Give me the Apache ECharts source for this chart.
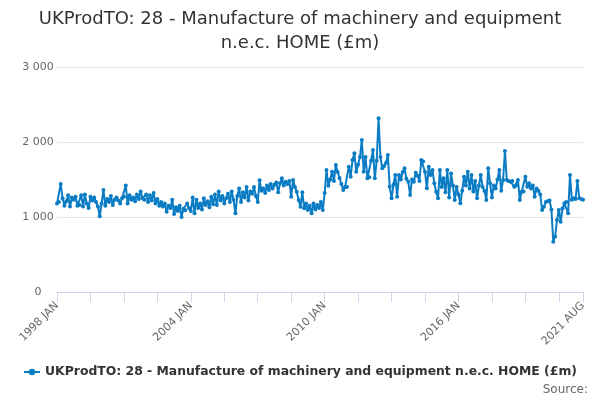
<!DOCTYPE html>
<html lang="en">
<head>
    <meta charset="UTF-8">
    <title>UKProdTO: 28</title>
    <script src="https://cdn.jsdelivr.net/npm/echarts@6/dist/echarts.min.js"></script>
    <style>
        body { margin: 0; background: #fff; }
        #chart { width: 600px; height: 400px; }
    </style>
</head>
<body>
    <div id="chart"></div>
    <script>
        // monthly series, 1998 JAN .. 2021 AUG
        const startYear = 1998;
        const monthNames = ['JAN', 'FEB', 'MAR', 'APR', 'MAY', 'JUN', 'JUL', 'AUG', 'SEP', 'OCT', 'NOV', 'DEC'];
        const yTicks = [0, 1000, 2000, 3000];
        const values = [
            1180, 1200, 1440, 1250, 1150, 1210, 1290, 1140, 1260, 1230, 1270, 1150, // 1998
            1160, 1290, 1140, 1300, 1180, 1120, 1270, 1220, 1260, 1200, 1140, 1010, // 1999
            1180, 1360, 1150, 1240, 1200, 1280, 1160, 1230, 1260, 1220, 1180, 1250, // 2000
            1270, 1420, 1180, 1290, 1230, 1260, 1210, 1300, 1240, 1340, 1250, 1230, // 2001
            1300, 1200, 1290, 1220, 1320, 1180, 1240, 1150, 1200, 1140, 1180, 1070, // 2002
            1150, 1120, 1230, 1040, 1130, 1080, 1150, 1000, 1110, 1090, 1180, 1120, // 2003
            1080, 1260, 1050, 1230, 1120, 1180, 1100, 1250, 1160, 1210, 1130, 1270, // 2004
            1170, 1300, 1160, 1340, 1220, 1280, 1180, 1250, 1310, 1200, 1340, 1230, // 2005
            1050, 1280, 1380, 1200, 1330, 1260, 1400, 1220, 1340, 1310, 1400, 1280, // 2006
            1200, 1490, 1350, 1380, 1320, 1420, 1360, 1440, 1380, 1430, 1460, 1330, // 2007
            1450, 1516, 1420, 1470, 1440, 1480, 1271, 1493, 1400, 1337, 1227, 1138, // 2008
            1330, 1116, 1180, 1093, 1150, 1049, 1180, 1100, 1160, 1120, 1200, 1093, // 2009
            1320, 1627, 1416, 1500, 1604, 1480, 1693, 1600, 1520, 1440, 1360, 1400, // 2010
            1400, 1671, 1538, 1760, 1849, 1604, 1700, 1800, 2027, 1604, 1800, 1516, // 2011
            1530, 1750, 1893, 1516, 1750, 2316, 1800, 1650, 1680, 1720, 1827, 1404, // 2012
            1249, 1430, 1560, 1271, 1560, 1500, 1600, 1649, 1510, 1470, 1293, 1500, // 2013
            1470, 1590, 1550, 1480, 1760, 1740, 1600, 1382, 1671, 1560, 1627, 1449, // 2014
            1337, 1249, 1627, 1400, 1516, 1330, 1627, 1260, 1580, 1420, 1227, 1400, // 2015
            1300, 1182, 1350, 1538, 1420, 1604, 1380, 1560, 1340, 1480, 1249, 1420, // 2016
            1560, 1400, 1350, 1227, 1649, 1450, 1260, 1420, 1380, 1500, 1627, 1350, // 2017
            1493, 1880, 1493, 1480, 1470, 1480, 1404, 1420, 1493, 1227, 1338, 1340, // 2018
            1538, 1404, 1449, 1380, 1420, 1271, 1380, 1350, 1300, 1093, 1138, 1200, // 2019
            1210, 1220, 1100, 670, 740, 960, 1093, 938, 1116, 1182, 1200, 1050,     // 2020
            1560, 1230, 1250, 1240, 1480, 1250, 1240, 1230                          // 2021
        ];

        const categories = values.map((v, i) =>
            (startYear + Math.floor(i / 12)) + ' ' + monthNames[i % 12]);
        const last = categories.length - 1;

        const chart = echarts.init(document.getElementById('chart'));
        chart.setOption({
            animation: false,
            title: {
                text: 'UKProdTO: 28 - Manufacture of machinery and equipment\nn.e.c. HOME (£m)',
                left: 'center',
                top: 2,
                textStyle: { fontSize: 18, fontWeight: 'normal', color: '#333', lineHeight: 24, fontFamily: 'DejaVu Sans' }
            },
            grid: { left: 57, right: 17, top: 67, bottom: 108 },
            xAxis: {
                type: 'category',
                data: categories,
                boundaryGap: false,
                axisLine: { lineStyle: { color: '#ccd6eb' } },
                axisTick: {
                    length: 10,
                    lineStyle: { color: '#ccd6eb' },
                    interval: (i) => i % 18 === 0 || i === last
                },
                axisLabel: {
                    rotate: 45,
                    margin: 12,
                    color: '#666',
                    fontSize: 11,
                    fontFamily: 'DejaVu Sans',
                    interval: (i) => i % 72 === 0 || i === last
                }
            },
            yAxis: {
                type: 'value',
                min: yTicks[0],
                max: yTicks[yTicks.length - 1],
                interval: 1000,
                axisLine: { show: false },
                axisTick: { show: false },
                splitLine: { lineStyle: { color: '#e6e6e6' } },
                axisLabel: {
                    color: '#666',
                    fontSize: 11,
                    fontFamily: 'DejaVu Sans',
                    align: 'center',
                    margin: 19,
                    formatter: (v) => String(v).replace(/\B(?=(\d{3})+(?!\d))/g, ' ')
                }
            },
            legend: {
                bottom: 17,
                left: 'center',
                itemWidth: 16,
                itemHeight: 8,
                textStyle: { fontSize: 12.4, fontWeight: 'bold', color: '#333', fontFamily: 'DejaVu Sans' }
            },
            graphic: [{
                type: 'text',
                right: 12,
                bottom: 4,
                style: { text: 'Source:', fill: '#666', fontSize: 12, fontFamily: 'DejaVu Sans' }
            }],
            series: [{
                name: 'UKProdTO: 28 - Manufacture of machinery and equipment n.e.c. HOME (£m)',
                type: 'line',
                data: values,
                color: '#0a7cc4',
                symbol: 'circle',
                symbolSize: 4,
                showAllSymbol: true,
                lineStyle: { width: 2 }
            }]
        });
    </script>
</body>
</html>
